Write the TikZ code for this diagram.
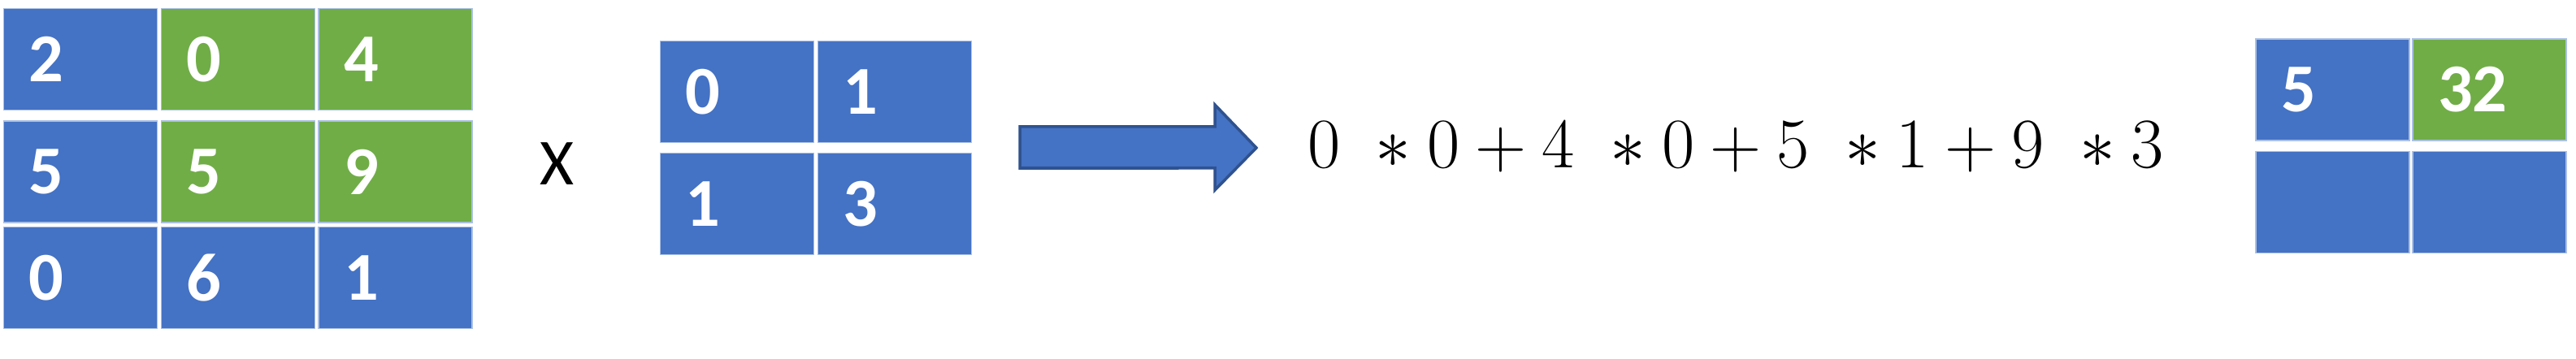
\documentclass[tikz,border=0pt]{standalone}
\usepackage[no-math]{fontspec}
\setmainfont{Carlito}
\usepackage{tikz}
\usetikzlibrary{positioning,calc}

\definecolor{cellblue}{HTML}{4472C4}
\definecolor{cellgreen}{HTML}{70AD47}
\definecolor{arrowedge}{HTML}{2F528F}

\begin{document}
\begin{tikzpicture}[
  every node/.style={font=\fontsize{23}{28}\selectfont},
  cell/.style={draw=white!55!cellblue, line width=0.5pt, text=white,
    font=\fontsize{24}{28}\selectfont\bfseries, align=left,
    minimum height=1.25cm, inner ysep=0pt,
    text width=1.27cm, inner xsep=0.31cm}]
  \useasboundingbox (0,0) rectangle (31.70,4.42);

  % input matrix
  \node[cell,fill=cellblue]  (a11) at (0.99,3.69)  {2};
  \node[cell,fill=cellgreen] (a12) at (2.93,3.69)  {0};
  \node[cell,fill=cellgreen] (a13) at (4.865,3.69) {4};
  \node[cell,fill=cellblue]  (a21) at (0.99,2.305)  {5};
  \node[cell,fill=cellgreen] (a22) at (2.93,2.305)  {5};
  \node[cell,fill=cellgreen] (a23) at (4.865,2.305) {9};
  \node[cell,fill=cellblue]  (a31) at (0.99,1.00)  {0};
  \node[cell,fill=cellblue]  (a32) at (2.93,1.00)  {6};
  \node[cell,fill=cellblue]  (a33) at (4.865,1.00) {1};

  \node (times) at (6.857,2.40) {X};

  % kernel
  \node[cell,fill=cellblue] (k11) at (9.07,3.29)  {0};
  \node[cell,fill=cellblue] (k12) at (11.01,3.29) {1};
  \node[cell,fill=cellblue] (k21) at (9.07,1.91)  {1};
  \node[cell,fill=cellblue] (k22) at (11.01,1.91) {3};

  % block arrow
  \coordinate (arrtail) at (12.55,2.605);
  \draw[fill=cellblue,draw=arrowedge,line width=1pt]
    ($(arrtail)+(0,0.255)$) -- (14.95,2.86) -- (14.95,3.13) -- (15.46,2.60)
    -- (14.95,2.08) -- (14.95,2.35) -- ($(arrtail)+(0,-0.255)$) -- cycle;

  % sum of products
  \node[anchor=base,inner sep=0pt] (sum) at (21.36,2.35)
    {\fontsize{24}{28}\selectfont$0\;\ast 0+4\;\ast 0+5\;\ast 1+9\;\ast 3$};

  % output matrix
  \node[cell,fill=cellblue]  (o11) at (28.705,3.315) {5};
  \node[cell,fill=cellgreen] (o12) at (30.635,3.315) {32};
  \node[cell,fill=cellblue]  (o21) at (28.705,1.93)  {};
  \node[cell,fill=cellblue]  (o22) at (30.635,1.93)  {};
\end{tikzpicture}
\end{document}
